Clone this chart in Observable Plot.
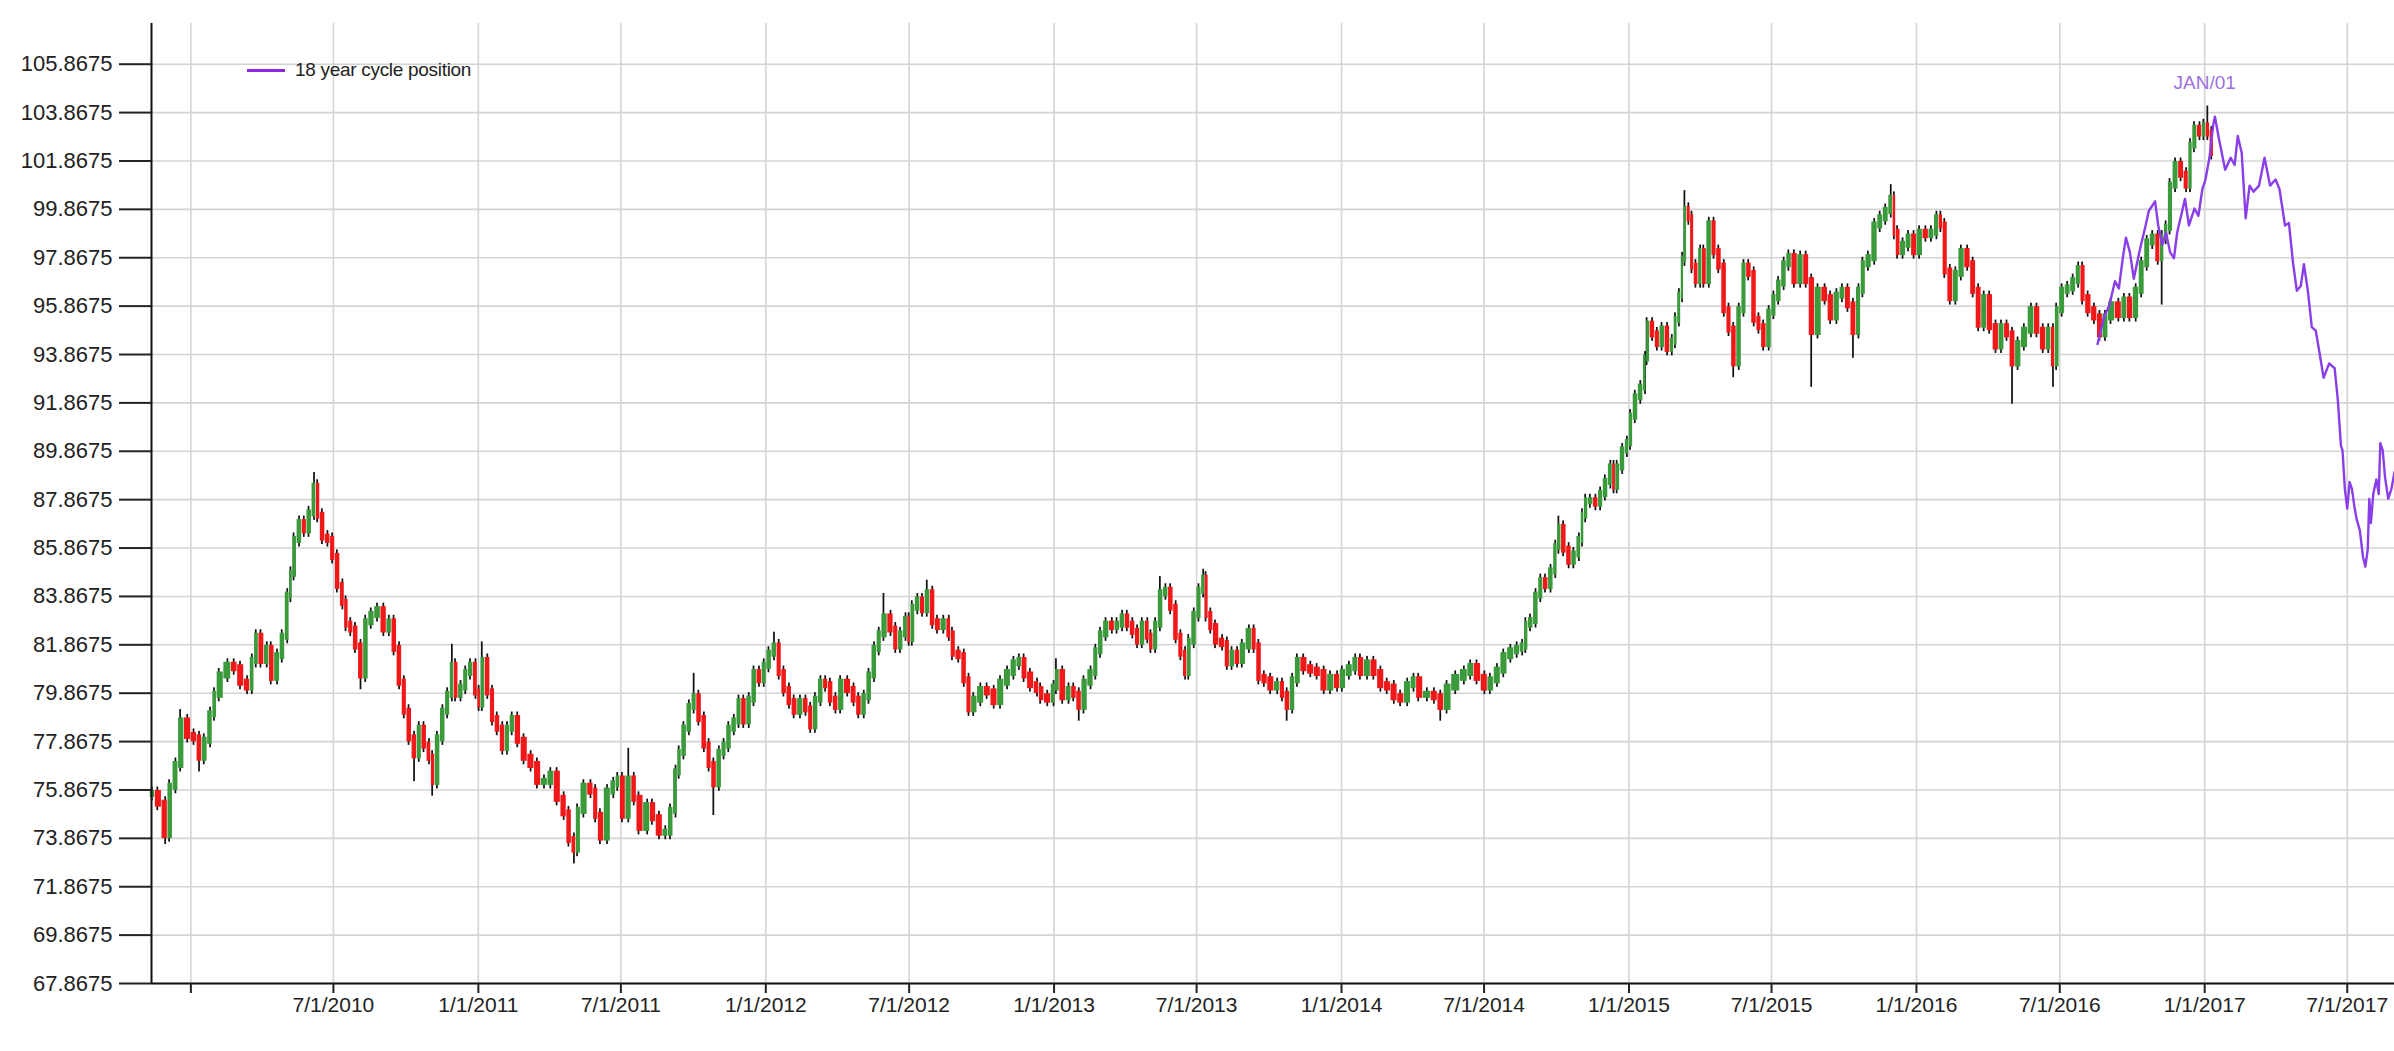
<!DOCTYPE html>
<html><head><meta charset="utf-8">
<script src="https://cdn.jsdelivr.net/npm/d3@7"></script>
<script src="https://cdn.jsdelivr.net/npm/@observablehq/plot@0.6"></script>
<style>
html,body{margin:0;padding:0;background:#fff;}
#wrap{position:relative;width:2394px;height:1051px;font-family:"Liberation Sans",Arial,sans-serif;}
#legend{position:absolute;left:247px;top:58px;height:24px;display:flex;align-items:center;font-size:19px;color:#222;letter-spacing:-0.3px;}
#legend .sw{width:38px;height:3px;background:#8a2be2;margin-right:10px;}
</style></head><body>
<div id="wrap"><div id="legend"><div class="sw"></div><span>18 year cycle position</span></div></div>
<script>
// ---- price candles: day offset from 2010-01-01 and closing value
const candleDays = [-49,-42,-32,-27,-19,-13,-4,4,11,17,25,30,36,47,55,63,72,78,83,89,97,102,110,116,123,127,131,138,144,150,157,161,167,174,180,186,193,197,203,209,216,222,229,237,245,252,258,265,271,277,284,290,296,303,307,313,320,326,332,336,343,349,355,362,366,370,377,383,389,396,402,408,415,423,432,440,449,457,465,474,480,487,491,499,508,514,
520,529,537,542,548,556,563,569,580,586,595,603,609,616,620,626,633,639,645,652,658,664,671,677,683,690,696,702,709,715,722,728,734,741,747,753,760,766,774,781,787,793,800,806,812,819,825,834,842,848,855,861,868,874,880,889,895,901,908,912,916,923,929,935,942,948,956,963,967,975,982,988,994,1003,1011,1020,1028,1037,1045,1052,1058,1066,1075,
1079,1088,1096,1099,1107,1115,1121,1128,1134,1143,1149,1155,1162,1170,1176,1183,1189,1196,1202,1208,1215,1219,1225,1231,1238,1244,1251,1257,1263,1267,1274,1280,1286,1289,1295,1301,1310,1316,1322,1329,1335,1344,1350,1356,1363,1371,1380,1386,1392,1399,1405,1413,1422,1430,1439,1447,1456,1462,1471,1479,1485,1494,1502,1511,1519,1528,1536,1545,1553,1559,1570,1579,1587,1595,1606,1617,
1625,1633,1643,1650,1659,1667,1676,1684,1691,1695,1701,1708,1714,1720,1727,1733,1737,1743,1750,1756,1763,1767,1771,1777,1784,1790,1796,1803,1807,1811,1818,1824,1828,1834,1841,1847,1849,1856,1862,1868,1875,1881,1885,1890,1894,1897,1902,1906,1911,1917,1921,1928,1934,1940,1947,1953,1959,1966,1972,1978,1985,1991,1997,2004,2010,2016,2023,2029,2036,
2044,2051,2058,2066,2075,2082,2090,2097,2104,2111,2118,2123,2130,2138,2145,2152,2159,2163,2167,2174,2181,2188,2195,2203,2210,2217,2222,2227,2234,2241,2248,2256,2263,2270,2277,2284,2292,2299,2306,2313,2320,2328,2337,2344,2352,2359,2365,2369,2376,2383,2390,2397,2402,2409,2417,2424,2431,2438,2448,2455,2462,2470,2477,2484,2491,2498,2503,2508,2513,2520,2527,2534,2539,2544,2551,2556,2561,2566];
const candleClose = [75.7,75.3,74.0,76.0,76.9,78.7,78.1,78.0,77.2,77.9,79.0,79.8,80.6,81.0,80.9,80.3,80.1,81.2,82.2,81.2,81.7,80.5,81.4,82.2,83.9,84.8,86.2,86.9,86.6,87.3,88.4,87.2,86.3,86.2,85.5,84.3,83.6,82.7,82.5,81.8,80.6,82.8,83.1,83.3,82.5,82.8,81.7,80.3,79.1,78.0,77.3,78.4,77.7,77.2,76.2,78.0,79.1,79.8,81.0,79.8,80.1,80.7,81.0,79.9,79.4,81.2,79.9,78.8,78.4,77.6,78.4,78.8,77.9,77.2,76.9,76.2,76.2,76.5,75.5,74.9,73.8,73.4,75.0,76.0,75.8,74.8,
73.9,75.8,76.1,76.3,74.8,76.3,75.5,74.3,75.2,74.7,74.1,74.1,75.0,76.6,77.4,78.4,79.3,79.7,78.8,77.7,76.9,76.1,77.4,77.7,78.4,78.7,79.5,78.7,79.6,80.7,80.4,81.0,81.5,81.8,80.7,80.0,79.5,79.1,79.5,79.2,78.5,79.6,80.3,80.2,79.6,79.3,80.3,80.0,79.6,79.1,79.7,80.6,81.7,82.3,83.0,82.5,81.8,82.3,82.9,82.1,83.4,83.7,83.3,84.0,82.8,82.6,82.8,82.3,81.5,81.4,80.4,79.2,79.6,80.0,79.9,79.5,80.3,80.7,81.1,81.2,80.6,80.2,80.0,
79.7,79.6,80.1,80.7,79.7,80.0,79.8,79.3,80.3,80.7,81.6,82.3,82.7,82.6,82.7,83.0,82.7,82.4,82.0,82.7,82.2,81.8,82.7,84.0,84.1,83.4,82.2,81.5,80.7,82.0,83.1,84.1,84.6,83.1,82.6,82.0,81.9,81.1,81.5,81.2,81.8,82.4,81.8,80.5,80.4,80.1,80.2,79.8,79.3,80.4,81.2,80.9,80.8,80.7,80.1,80.5,80.2,80.7,80.9,81.2,80.7,81.1,80.7,80.2,80.1,79.7,79.6,80.2,80.4,79.8,79.8,79.7,79.3,80.1,80.5,80.7,
80.95,80.5,80.1,80.4,80.8,81.4,81.6,81.7,81.8,82.7,82.85,83.9,84.5,84.3,84.9,85.9,86.7,85.8,85.3,85.6,86.2,87.2,87.8,87.8,87.7,88.1,88.6,89.2,88.4,89.2,89.9,90.2,91.3,92.1,92.5,93.7,95.1,94.7,94.3,94.9,94.1,94.4,95.3,96.3,97.8,99.85,99.5,97.5,96.9,98.1,96.9,99.25,98.1,97.5,95.7,94.9,93.5,95.7,97.5,97.2,95.3,95.0,94.3,95.6,96.2,96.8,97.6,97.9,96.9,
97.85,96.9,94.8,96.5,96.2,95.4,96.3,96.5,95.9,94.8,96.5,97.6,97.85,99.2,99.5,99.8,100.3,98.9,98.1,98.4,98.7,98.1,98.9,98.8,98.9,99.5,99.2,97.3,96.2,97.2,98.1,97.6,96.5,95.1,96.2,95.0,94.2,95.0,94.7,93.5,94.3,94.85,95.7,94.85,94.2,94.85,93.5,95.7,96.5,96.6,96.9,97.4,96.2,95.7,95.4,94.7,95.4,95.9,95.5,96.1,95.5,96.5,97.6,98.5,98.7,97.85,98.7,99.1,100.85,101.7,101.3,100.85,102.5,103.2,103.0,103.3,103.0,102.2];

// ---- notable wick extremes (day offset, value)
const spikeDays = [-13,157,332,370,556,639,741,880,935,1099,1231,1286,1737,1897,2159,2561,-32,11,216,284,307,487,664,1128,1392,1587,1959,2058,2111,2313,2365,2503];
const spikeVals = [78.9,88.7,81.6,81.7,77.3,80.4,82.1,83.7,84.25,81.0,84.4,84.7,86.9,100.35,100.6,103.85,73.9,76.9,80.3,76.5,75.9,73.1,75.1,79.0,79.0,79.0,93.2,92.8,94.0,92.1,92.8,96.2];

// ---- 18 year cycle position line
const cycleDays = [2421,2429,2436,2443,2448,2453,2457,2462,2467,2474,2482,2486,2494,2498,2503,2508,2513,2518,2522,2527,2532,2537,2544,2549,2554,2558,2563,2568,2570,2575,2583,2590,2595,2599,2604,2609,2614,2619,2626,2633,2640,2647,2652,2659,2664,2669,2674,2679,2683,2688,2693,2698,2703,2708,2715,2722,2726,2730,2732,2735,2738,2741,2744,2747,2750,2754,2758,2761,2764,2766,2768,2771,2775,2778,2780,2783,2786,2790,2794,2798];
const cycleVals = [94.3,95.4,95.9,96.9,96.6,97.85,98.7,98.1,97.0,98.1,99.2,99.8,100.2,99.2,98.4,98.9,98.1,97.85,98.9,99.6,100.3,99.2,99.9,99.6,100.7,101.1,102.0,103.4,103.7,102.8,101.5,102.0,101.7,102.9,102.2,99.5,100.85,100.6,100.85,102.0,100.85,101.1,100.7,99.2,99.3,97.7,96.5,96.7,97.6,96.5,95.0,94.85,93.9,92.9,93.5,93.3,92.0,90.1,89.9,88.3,87.5,88.6,88.3,87.6,87.05,86.6,85.5,85.1,85.8,87.9,86.9,88.1,88.7,88.1,90.2,89.9,88.8,87.9,88.3,89.0];

// ---- axis ticks
const xTickStrings = ["2010-01-01","2010-07-01","2011-01-01","2011-07-01","2012-01-01","2012-07-01","2013-01-01","2013-07-01","2014-01-01","2014-07-01","2015-01-01","2015-07-01","2016-01-01","2016-07-01","2017-01-01","2017-07-01"];
const yTicks = [67.8675,69.8675,71.8675,73.8675,75.8675,77.8675,79.8675,81.8675,83.8675,85.8675,87.8675,89.8675,91.8675,93.8675,95.8675,97.8675,99.8675,101.8675,103.8675,105.8675];
const annotation = [{day: 2557, label: "JAN/01"}];

const DAY = 86400000;
const day = d => new Date(Date.UTC(2010, 0, 1 + d));
const xTicks = xTickStrings.map(s => new Date(s + "T00:00:00Z"));
const fmtX = d => d.getTime() === xTicks[0].getTime() ? "" : `${d.getUTCMonth() + 1}/${d.getUTCDate()}/${d.getUTCFullYear()}`;

const candles = candleDays.map((d, i) => {
  const close = candleClose[i];
  const open = i === 0 ? close : candleClose[i - 1];
  const prev = i === 0 ? d - 6 : candleDays[i - 1];
  const next = i === candleDays.length - 1 ? d + 5 : candleDays[i + 1];
  return {
    date: day(d), d, open, close,
    x1: new Date(+day(d) - (d - prev) / 2 * DAY),
    x2: new Date(+day(d) + (next - d) / 2 * DAY),
    w1: new Date(+day(d) - 1.1 * DAY),
    w2: new Date(+day(d) + 1.1 * DAY),
    low: Math.min(open, close), high: Math.max(open, close)
  };
});
spikeDays.forEach((sd, i) => {
  let best = candles[0];
  for (const c of candles) if (Math.abs(c.d - sd) < Math.abs(best.d - sd)) best = c;
  best.low = Math.min(best.low, spikeVals[i]);
  best.high = Math.max(best.high, spikeVals[i]);
});
const cycle = cycleDays.map((d, i) => ({date: day(d), value: cycleVals[i]}));
const notes = annotation.map(a => ({date: day(a.day), label: a.label}));

const xDomain = [day(-50), day(2798)];
const yDomain = [67.8675, 107.55];
const GREEN = "#3b9a3b", RED = "#f01818";

const chart = Plot.plot({
  width: 2394, height: 1051,
  marginLeft: 151, marginRight: 0, marginTop: 23, marginBottom: 68,
  style: {fontFamily: "'Liberation Sans', Arial, sans-serif", background: "#fff", color: "#222", overflow: "visible"},
  x: {type: "utc", domain: xDomain, label: null},
  y: {domain: yDomain, label: null},
  marks: [
    Plot.gridX(xTicks, {stroke: "#d4d4d4", strokeOpacity: 1, strokeWidth: 1.6}),
    Plot.gridY(yTicks, {stroke: "#d4d4d4", strokeOpacity: 1, strokeWidth: 1.6}),
    // wicks (black), extended beyond the bodies
    Plot.rect(candles, {x1: "w1", x2: "w2", y1: "low", y2: "high", fill: "#111", insetTop: -7, insetBottom: -7}),
    // bodies, tiled so that the band is continuous
    Plot.rect(candles, {x1: "x1", x2: "x2", y1: "open", y2: "close", fill: d => d.close >= d.open ? GREEN : RED, insetTop: -3.5, insetBottom: -3.5, insetLeft: 0.3, insetRight: 0.3}),
    Plot.line(cycle, {x: "date", y: "value", stroke: "#8a3ee8", strokeWidth: 2.4}),
    Plot.text(notes, {x: "date", text: "label", frameAnchor: "top", lineAnchor: "bottom", dy: 65, fontSize: 19, fill: "#9d70e0"}),
    Plot.ruleY([yDomain[0]], {stroke: "#111", strokeWidth: 2}),
    Plot.ruleX([xDomain[0]], {stroke: "#111", strokeWidth: 2}),
    Plot.axisY(yTicks, {tickSize: 32, tickPadding: 7, tickFormat: d => d.toFixed(4), fontSize: 22, strokeWidth: 2, color: "#222", label: null}),
    Plot.axisX(xTicks, {tickSize: 10, tickPadding: 4, tickFormat: fmtX, fontSize: 21, strokeWidth: 2, color: "#222", label: null})
  ]
});
document.getElementById("wrap").prepend(chart);
</script>
</body></html>
